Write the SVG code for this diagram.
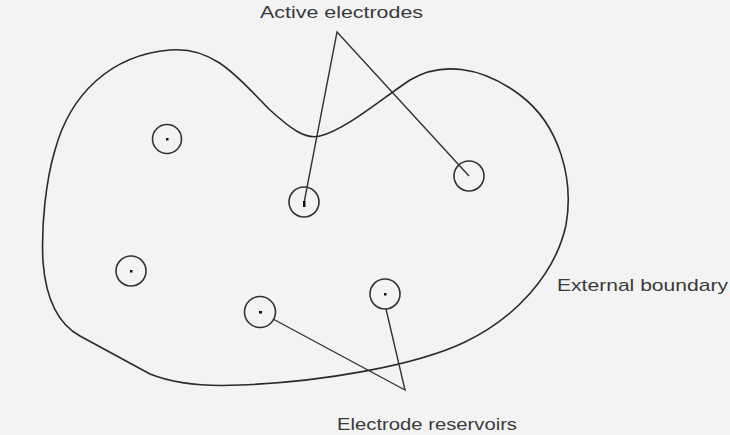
<svg xmlns="http://www.w3.org/2000/svg" width="730" height="435" viewBox="0 0 730 435">
<style>
.bd{fill:none;stroke:#2a2a2a;stroke-width:1.6}
.el{fill:none;stroke:#333;stroke-width:1.6}
.dot{fill:#111}
.ln{stroke:#333;stroke-width:1.4;fill:none}
.lb{font-family:"Liberation Sans",Arial,sans-serif;fill:#3a3a3a}
</style>
<rect width="730" height="435" fill="#f3f3f3"/>
<g id="boundary">
<path class="bd" d="M 80,336 C 58,324 46,300 43,262 C 41,225 46,180 55,150 C 70,95 110,55 170,50 C 215,46 240,80 270,110 C 290,128 305,140 320,136 C 345,130 380,100 410,80 C 440,62 480,65 520,95 C 560,125 574,180 566,225 C 555,275 515,318 465,342 C 415,366 320,382 240,385 C 200,387 170,382 150,374 Z"/>
</g>
<g id="connectors">
<polyline class="ln" points="304,203 337,32 469,176"/>
<polyline class="ln" points="273,319 405,390 386,309"/>
</g>
<g id="e1"><circle class="el" cx="167" cy="139" r="14.5"/><rect class="dot" x="166" y="138" width="2.5" height="2.5"/></g>
<g id="e2"><circle class="el" cx="304" cy="202" r="15"/><rect class="dot" x="303" y="201" width="2.5" height="6"/></g>
<g id="e3"><circle class="el" cx="469" cy="176" r="15"/></g>
<g id="e4"><circle class="el" cx="131" cy="271" r="15"/><rect class="dot" x="130" y="270" width="2.5" height="2.5"/></g>
<g id="e5"><circle class="el" cx="260" cy="312" r="15.5"/><rect class="dot" x="259" y="311" width="3" height="2.5"/></g>
<g id="e6"><circle class="el" cx="385" cy="294" r="15"/><rect class="dot" x="384" y="293" width="2.5" height="2.5"/></g>
<g id="label-active"><text class="lb" x="260" y="18" font-size="17" textLength="163" lengthAdjust="spacingAndGlyphs" fill="#555">Active electrodes</text></g>
<g id="label-boundary"><text class="lb" x="557" y="291" font-size="17" textLength="171" lengthAdjust="spacingAndGlyphs">External boundary</text></g>
<g id="label-reservoirs"><text class="lb" x="337" y="430" font-size="17" textLength="180" lengthAdjust="spacingAndGlyphs" fill="#555">Electrode reservoirs</text></g>
</svg>
